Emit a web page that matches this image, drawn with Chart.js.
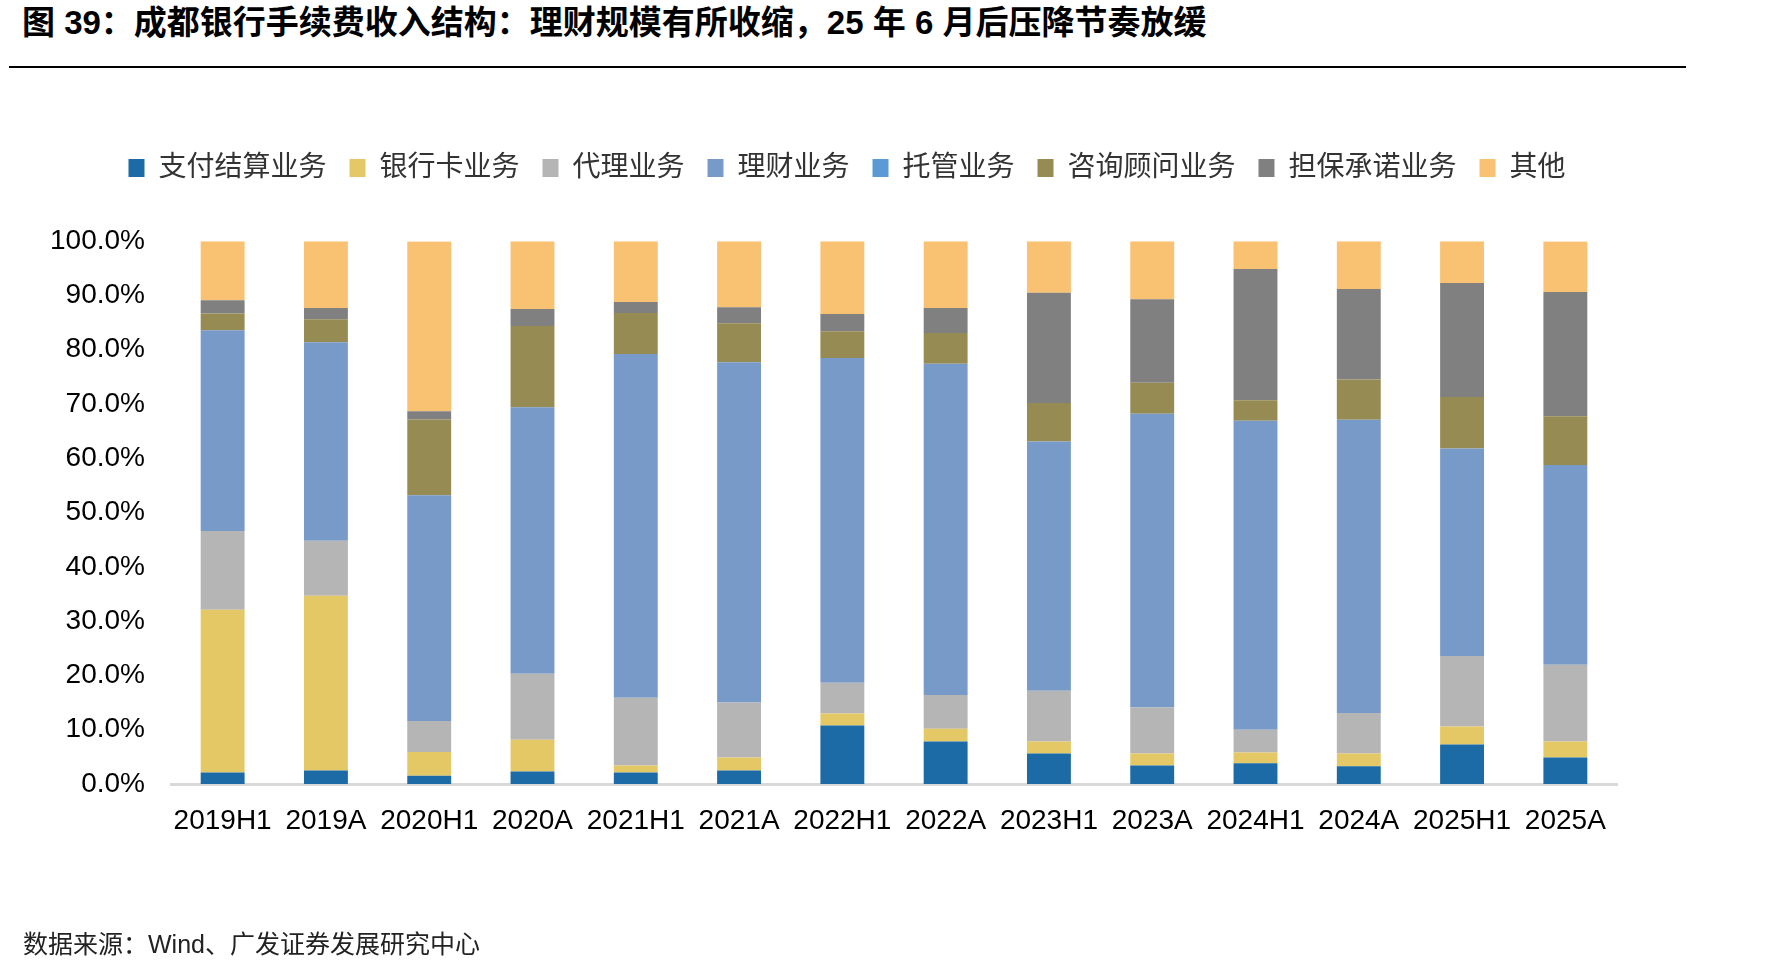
<!DOCTYPE html>
<html>
<head>
<meta charset="utf-8">
<script src="https://cdn.jsdelivr.net/npm/chart.js@4/dist/chart.umd.min.js"></script>
<style>
  html, body { margin: 0; padding: 0; background: #fff; }
  body { width: 1790px; height: 973px; position: relative; overflow: hidden;
         font-family: "Liberation Sans", "Noto Sans CJK SC", sans-serif; }
  #title { position: absolute; left: 22px; top: 5px; font-size: 33px; font-weight: bold; color: #000;
           line-height: 36px; white-space: nowrap; font-family: "Liberation Sans", "Noto Sans CJK SC", sans-serif; }
  #rule { position: absolute; left: 9px; top: 66px; width: 1677px; height: 2px; background: #000; }
  #wrap { position: absolute; left: 0; top: 0; width: 1694px; height: 973px; }
  #source { position: absolute; left: 23px; top: 929px; font-size: 25px; color: #222; line-height: 30px; white-space: nowrap; }
</style>
</head>
<body>
<div id="title">图 39：成都银行手续费收入结构：理财规模有所收缩，25 年 6 月后压降节奏放缓</div>
<div id="rule"></div>
<div id="wrap"><canvas id="c"></canvas></div>
<div id="source">数据来源：Wind、广发证券发展研究中心</div>
<script>
const categories = ['2019H1','2019A','2020H1','2020A','2021H1','2021A','2022H1','2022A','2023H1','2023A','2024H1','2024A','2025H1','2025A'];
const seriesNames = ['支付结算业务','银行卡业务','代理业务','理财业务','托管业务','咨询顾问业务','担保承诺业务','其他'];
const payment   = [2.1, 2.5, 1.5, 2.3, 2.1, 2.5, 10.8, 7.85, 5.6, 3.4, 3.8, 3.25, 7.3, 4.9];
const bankCard  = [30.0, 32.2, 4.4, 5.85, 1.3, 2.4, 2.2, 2.35, 2.25, 2.2, 2.0, 2.35, 3.3, 2.95];
const agency    = [14.5, 10.1, 5.7, 12.15, 12.5, 10.1, 5.65, 6.2, 9.35, 8.5, 4.2, 7.5, 13.0, 14.1];
const wealth    = [37.0, 36.6, 41.6, 49.1, 63.3, 62.7, 59.85, 61.0, 45.9, 54.1, 56.9, 54.0, 38.2, 36.8];
const custody   = [0, 0, 0, 0, 0, 0, 0, 0, 0, 0, 0, 0, 0, 0];
const advisory  = [3.1, 4.2, 13.95, 15.0, 7.55, 7.2, 4.9, 5.7, 7.1, 5.7, 3.8, 7.4, 9.5, 9.0];
const guarantee = [2.4, 2.1, 1.5, 3.1, 2.05, 2.95, 3.2, 4.6, 20.3, 15.4, 24.2, 16.7, 21.0, 22.9];
const others    = [10.9, 12.3, 31.3, 12.5, 11.2, 12.15, 13.4, 12.3, 9.5, 10.7, 5.1, 8.8, 7.7, 9.3];
const yTicks = [0, 10, 20, 30, 40, 50, 60, 70, 80, 90, 100];

const colors = ['#1c6aa6', '#e4c866', '#b5b5b5', '#789ac8', '#5b9bd5', '#968b52', '#808080', '#f9c172'];
const seriesData = [payment, bankCard, agency, wealth, custody, advisory, guarantee, others];

const datasets = seriesNames.map((name, i) => ({
  label: name,
  data: seriesData[i],
  backgroundColor: colors[i],
  borderWidth: 0,
  barPercentage: 0.425,
  categoryPercentage: 1.0
}));

const fontFamily = '"Liberation Sans", "Noto Sans CJK SC", sans-serif';

new Chart(document.getElementById('c'), {
  type: 'bar',
  data: { labels: categories, datasets },
  options: {
    responsive: true,
    maintainAspectRatio: false,
    animation: false,
    layout: { padding: { left: 0, right: 0, top: 131, bottom: 0 } },
    plugins: {
      tooltip: { enabled: false },
      title: { display: false },
      subtitle: { display: true, text: ' ', font: { size: 1 }, padding: { top: 0, bottom: 48 }, weight: 500 },
      legend: {
        display: true,
        position: 'top',
        align: 'center',
        labels: {
          boxWidth: 16,
          boxHeight: 18,
          padding: 23,
          color: '#333',
          font: { size: 28, family: fontFamily }
        }
      }
    },
    scales: {
      x: {
        stacked: true,
        grid: { display: false, drawTicks: false },
        border: { display: true, color: '#d9d9d9', width: 3 },
        ticks: { color: '#000', font: { size: 28, family: fontFamily }, padding: 20, maxRotation: 0, autoSkip: false },
        afterFit: (s) => { s.height = 189; }
      },
      y: {
        stacked: true,
        min: 0, max: 100,
        afterBuildTicks: (s) => { s.ticks = yTicks.map(v => ({ value: v })); },
        grid: { display: false, drawTicks: false },
        border: { display: false },
        ticks: { color: '#000', font: { size: 28, family: fontFamily }, padding: 26,
                 callback: (v) => Number(v).toFixed(1) + '%' },
        afterFit: (s) => { s.width = 171; }
      },
      yRight: {
        type: 'linear',
        position: 'right',
        display: true,
        min: 0, max: 100,
        grid: { display: false, drawTicks: false },
        border: { display: false },
        ticks: { display: false },
        afterFit: (s) => { s.width = 77; }
      }
    }
  }
});
</script>
</body>
</html>
